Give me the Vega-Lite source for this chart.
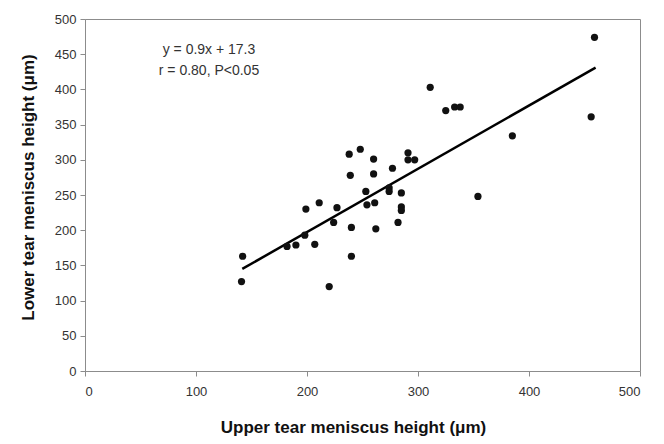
{
  "$schema": "https://vega.github.io/schema/vega-lite/v6.json",
  "width": 555,
  "height": 352,
  "autosize": {"type": "none"},
  "padding": {"left": 85, "top": 19, "right": 24, "bottom": 73},
  "background": "white",
  "config": {
    "font": "Liberation Sans",
    "view": {"stroke": "#8c8c8c", "strokeWidth": 1},
    "axis": {
      "grid": false,
      "domainColor": "#8c8c8c",
      "tickColor": "#8c8c8c",
      "tickSize": 5,
      "labelOverlap": false,
      "labelFont": "Liberation Sans",
      "labelFontSize": 13,
      "labelColor": "#333333",
      "titleFont": "Liberation Sans",
      "titleFontSize": 17,
      "titleFontWeight": "bold",
      "titleColor": "#111111"
    }
  },
  "datasets": {
    "pts": [
      {"upper": 142, "lower": 163}, {"upper": 141, "lower": 127},
      {"upper": 182, "lower": 177}, {"upper": 190, "lower": 179},
      {"upper": 199, "lower": 230}, {"upper": 198, "lower": 193},
      {"upper": 207, "lower": 180}, {"upper": 211, "lower": 239},
      {"upper": 220, "lower": 120}, {"upper": 224, "lower": 211},
      {"upper": 227, "lower": 232}, {"upper": 240, "lower": 204},
      {"upper": 240, "lower": 163}, {"upper": 238, "lower": 308},
      {"upper": 248, "lower": 315}, {"upper": 239, "lower": 278},
      {"upper": 253, "lower": 255}, {"upper": 254, "lower": 236},
      {"upper": 260, "lower": 301}, {"upper": 260, "lower": 280},
      {"upper": 261, "lower": 239}, {"upper": 262, "lower": 202},
      {"upper": 274, "lower": 260}, {"upper": 274, "lower": 255},
      {"upper": 277, "lower": 288}, {"upper": 282, "lower": 211},
      {"upper": 285, "lower": 253}, {"upper": 285, "lower": 233},
      {"upper": 285, "lower": 228}, {"upper": 291, "lower": 310},
      {"upper": 291, "lower": 300}, {"upper": 297, "lower": 300},
      {"upper": 311, "lower": 403}, {"upper": 325, "lower": 370},
      {"upper": 333, "lower": 375}, {"upper": 338, "lower": 375},
      {"upper": 354, "lower": 248}, {"upper": 385, "lower": 334},
      {"upper": 456, "lower": 361}, {"upper": 459, "lower": 474}
    ],
    "fit": [
      {"upper": 141.7, "lower": 145},
      {"upper": 460, "lower": 431}
    ],
    "note": [
      {"upper": 111.7, "lower": 456, "label": "y = 0.9x  + 17.3"},
      {"upper": 111.7, "lower": 426, "label": "r = 0.80,  P<0.05"}
    ]
  },
  "encoding": {
    "x": {
      "field": "upper", "type": "quantitative",
      "scale": {"domain": [0, 500], "nice": false},
      "axis": {"values": [0, 100, 200, 300, 400, 500], "labelPadding": 9, "title": "Upper tear meniscus height (μm)", "titleX": 268, "titleY": 56, "titleBaseline": "middle", "titleAlign": "center"}
    },
    "y": {
      "field": "lower", "type": "quantitative",
      "scale": {"domain": [0, 500], "nice": false},
      "axis": {"values": [0, 50, 100, 150, 200, 250, 300, 350, 400, 450, 500], "labelOverlap": false, "labelPadding": 4, "title": "Lower tear meniscus height (μm)", "titleX": -57, "titleY": 168, "titleBaseline": "middle", "titleAlign": "center"}
    }
  },
  "layer": [
    {
      "data": {"name": "fit"},
      "mark": {"type": "line", "color": "#000000", "strokeWidth": 2.5}
    },
    {
      "data": {"name": "pts"},
      "mark": {"type": "point", "filled": true, "shape": "circle", "size": 52, "color": "#111111", "opacity": 1}
    },
    {
      "data": {"name": "note"},
      "mark": {"type": "text", "font": "Liberation Sans", "fontSize": 14, "color": "#333333", "align": "center", "baseline": "middle"},
      "encoding": {
        "text": {"field": "label"}
      }
    }
  ]
}
